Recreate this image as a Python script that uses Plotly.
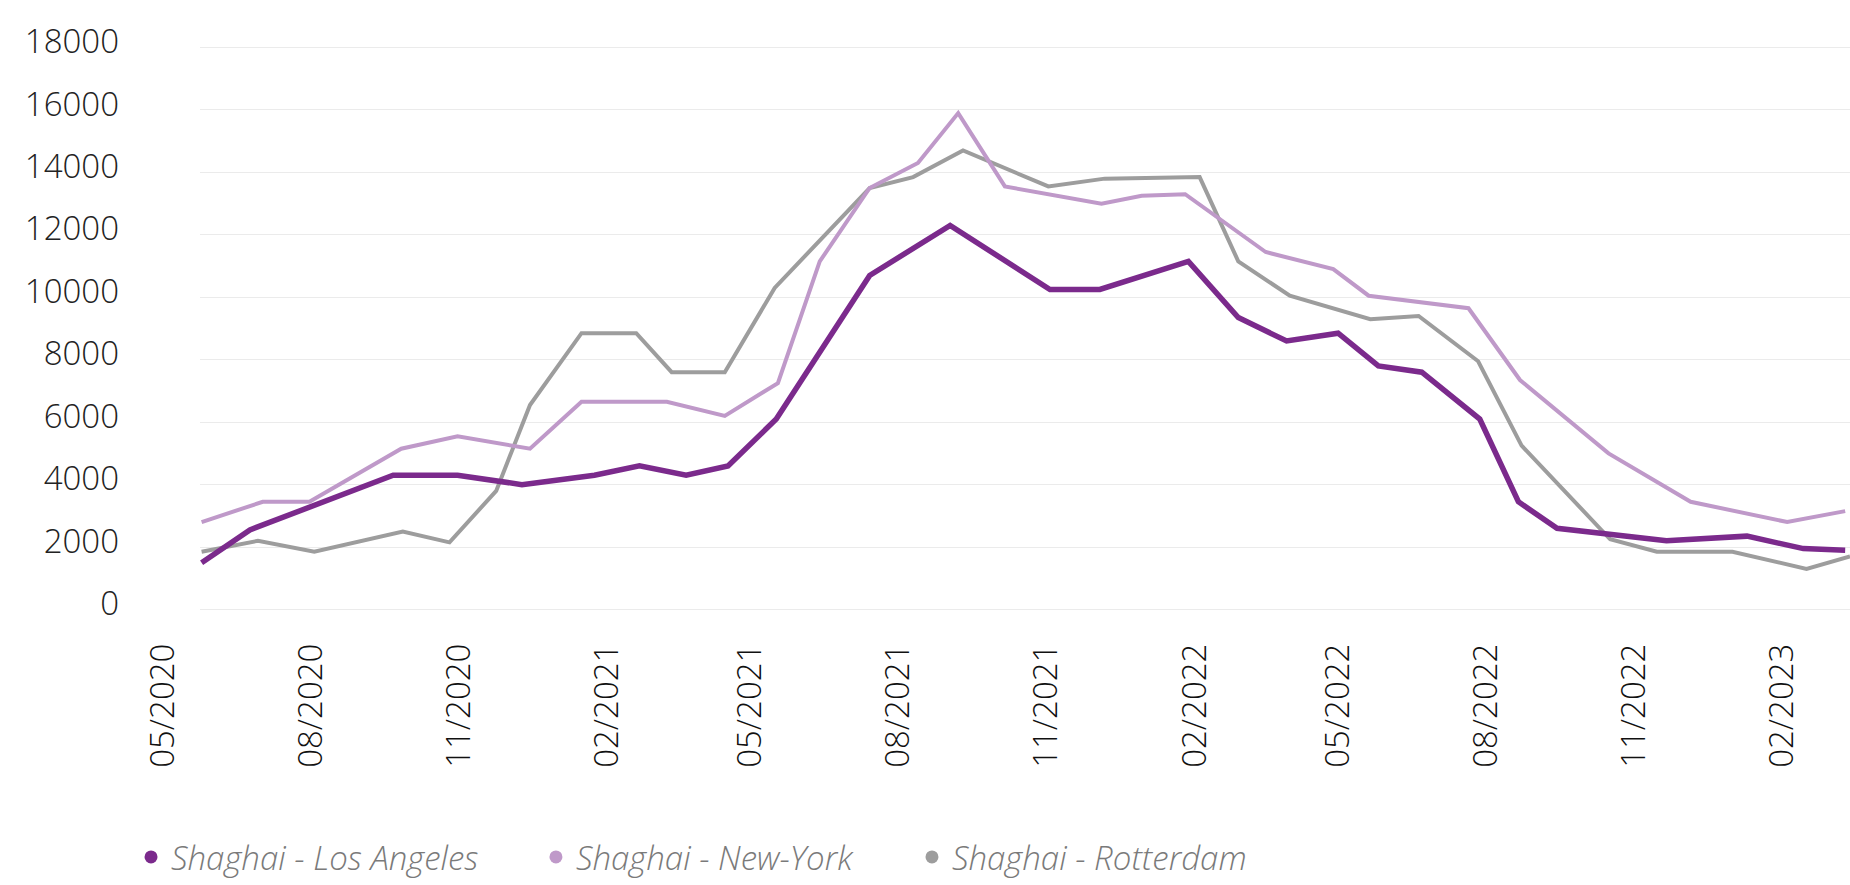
import plotly.graph_objects as go

# Shanghai - Los Angeles
la_dates = ["2020-05-02", "2020-06-01", "2020-08-29", "2020-10-08", "2020-11-17",
            "2021-01-01", "2021-01-29", "2021-02-27", "2021-03-25", "2021-04-24",
            "2021-06-21", "2021-08-10", "2021-10-11", "2021-11-11", "2022-01-05",
            "2022-02-05", "2022-03-07", "2022-04-08", "2022-05-03", "2022-05-30",
            "2022-07-05", "2022-07-29", "2022-08-22", "2022-10-29", "2022-12-18",
            "2023-01-22", "2023-02-17"]
la_values = [1500, 2550, 4300, 4300, 4000,
             4300, 4600, 4300, 4600, 6100,
             10700, 12300, 10250, 10250, 11150,
             9350, 8600, 8850, 7800, 7600,
             6100, 3450, 2600, 2200, 2350,
             1950, 1900]

# Shanghai - New-York
ny_dates = ["2020-05-02", "2020-06-09", "2020-07-08", "2020-09-03", "2020-10-08",
            "2020-11-22", "2020-12-24", "2021-02-15", "2021-03-23", "2021-04-25",
            "2021-05-21", "2021-06-21", "2021-07-21", "2021-08-15", "2021-09-13",
            "2021-11-12", "2021-12-07", "2022-01-03", "2022-02-22", "2022-04-05",
            "2022-04-27", "2022-06-28", "2022-07-30", "2022-09-23", "2022-11-13",
            "2023-01-12", "2023-02-17"]
ny_values = [2800, 3450, 3450, 5150, 5550,
             5150, 6650, 6650, 6200, 7250,
             11150, 13500, 14300, 15900, 13550,
             13000, 13250, 13300, 11450, 10900,
             10050, 9650, 7350, 5000, 3450,
             2800, 3150]

# Shanghai - Rotterdam
rt_dates = ["2020-05-02", "2020-06-06", "2020-07-11", "2020-09-04", "2020-10-03",
            "2020-11-01", "2020-11-22", "2020-12-24", "2021-01-27", "2021-02-18",
            "2021-03-23", "2021-04-23", "2021-06-21", "2021-07-18", "2021-08-18",
            "2021-10-10", "2021-11-14", "2022-01-12", "2022-02-05", "2022-03-09",
            "2022-04-28", "2022-05-28", "2022-07-04", "2022-07-31", "2022-09-24",
            "2022-10-23", "2022-12-09", "2023-01-24", "2023-02-20"]
rt_values = [1850, 2200, 1850, 2500, 2150,
             3800, 6550, 8850, 8850, 7600,
             7600, 10300, 13500, 13850, 14700,
             13550, 13800, 13850, 11150, 10050,
             9300, 9400, 7950, 5250, 2250,
             1850, 1850, 1300, 1700]

series_names = ["Shaghai - Los Angeles", "Shaghai - New-York", "Shaghai - Rotterdam"]
colors = ["#7b2a8c", "#bf99c9", "#9d9d9d"]
widths = [5.5, 4, 4]

FONT = "Open Sans"

fig = go.Figure()

# lines, drawn back to front
for dates, vals, col, w in [(rt_dates, rt_values, colors[2], widths[2]),
                            (ny_dates, ny_values, colors[1], widths[1]),
                            (la_dates, la_values, colors[0], widths[0])]:
    fig.add_trace(go.Scatter(x=dates, y=vals, mode="lines",
                             line=dict(color=col, width=w),
                             showlegend=False, hoverinfo="x+y"))

# legend entries with round markers, one legend box each
legend_ids = ["legend", "legend2", "legend3"]
for name, col, lid in zip(series_names, colors, legend_ids):
    fig.add_trace(go.Scatter(x=[None], y=[None], mode="markers", name=name,
                             marker=dict(color=col, size=13),
                             legend=lid, showlegend=True))

legend_style = dict(orientation="h", yanchor="middle", xanchor="left", y=-0.433,
                    bgcolor="rgba(0,0,0,0)", borderwidth=0,
                    font=dict(family=FONT, size=33, color="#7a7a7a",
                              style="italic", weight=300))

fig.update_layout(
    width=1850, height=885,
    margin=dict(l=200, r=0, t=45, b=270, pad=0),
    paper_bgcolor="white", plot_bgcolor="white",
    showlegend=True,
    legend=dict(x=-0.0418, **legend_style),
    legend2=dict(x=0.2036, **legend_style),
    legend3=dict(x=0.4315, **legend_style),
    xaxis=dict(
        type="date",
        range=["2020-05-01", "2023-02-20"],
        tick0="2020-05-01", dtick="M3", tickformat="%m/%Y",
        tickangle=-90,
        showgrid=False, zeroline=False, showline=False, ticks="",
        ticklabelshift=-37, ticklabelstandoff=24,
        tickfont=dict(family=FONT, size=33, color="#111111", weight=300),
    ),
    yaxis=dict(
        range=[-80, 18080], dtick=2000, tick0=0,
        showgrid=True, gridcolor="#ebebeb", gridwidth=1,
        zeroline=False, showline=False, ticks="",
        ticklabelstandoff=80, ticklabelshift=-6,
        tickformat="d",
        tickfont=dict(family=FONT, size=33, color="#222222", weight=300),
    ),
)

fig.write_html("out.html")
